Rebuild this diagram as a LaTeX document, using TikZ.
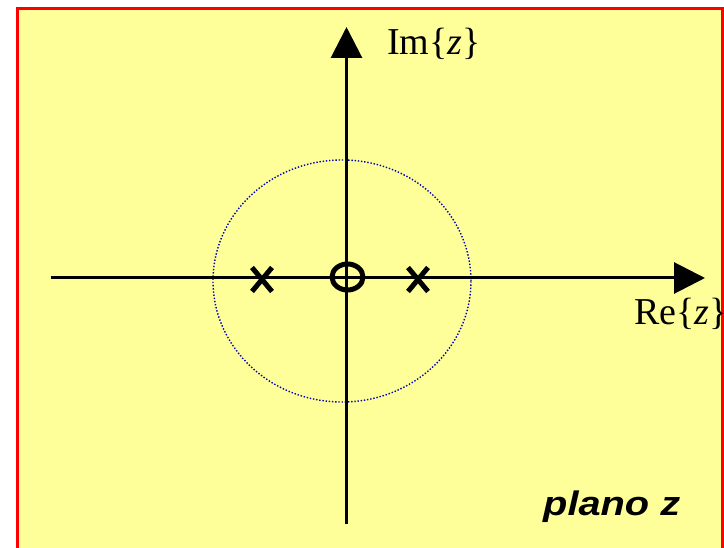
\documentclass[tikz,border=0pt]{standalone}
\usepackage{fontspec}
\setmainfont{Liberation Serif}
\newfontfamily\arialfont{Liberation Sans}
\usetikzlibrary{arrows.meta,shapes.geometric,shapes.misc}
\definecolor{bgyellow}{HTML}{FFFF99}
\definecolor{framered}{HTML}{FF0000}
\definecolor{dotblue}{HTML}{0000B0}
\tikzset{
  axisline/.style={line width=3pt,-{Triangle[length=31pt,width=31pt]}},
  xmark/.style={cross out,draw,line width=5pt,inner sep=0pt,minimum width=15pt,minimum height=19pt},
  zeromark/.style={ellipse,draw,line width=5pt,inner sep=0pt,minimum width=31pt,minimum height=26pt},
  unitcirc/.style={ellipse,draw=dotblue,line width=1.4pt,dash pattern=on 1.4pt off 1.8pt,inner sep=0pt,minimum width=258pt,minimum height=242pt},
  axlabel/.style={inner sep=0pt,anchor=base west,font=\fontsize{38}{41}\selectfont},
}
\begin{document}
\begin{tikzpicture}[x=1pt,y=-1pt]
\clip (0,0) rectangle (724,548);
\fill[white] (0,0) rectangle (724,548);
\draw[framered,fill=bgyellow,line width=3pt] (17,9) rectangle (722,600);
% unit circle
\node[unitcirc] (uc) at (342,281) {};
% axes
\coordinate (xl) at (50.5,278);
\coordinate (xr) at (705,278);
\coordinate (yb) at (346.5,524);
\coordinate (yt) at (346.5,27);
\draw[axisline] (xl) -- (xr);
\draw[axisline] (yb) -- (yt);
% poles and zero
\node[xmark] (p1) at (262,279.5) {};
\node[xmark] (p2) at (418,279.5) {};
\node[zeromark] (z0) at (347.5,277) {};
% labels
\node[axlabel] (im) at (387,55) {Im\{\textit{z}\}};
\node[axlabel] (re) at (634,325) {Re\{\textit{z}\}};
\node[inner sep=0pt,anchor=base west] (pl) at (543,515) {\scalebox{1.17}[1]{\arialfont\bfseries\itshape\fontsize{34}{37}\selectfont plano z}};
\end{tikzpicture}
\end{document}
